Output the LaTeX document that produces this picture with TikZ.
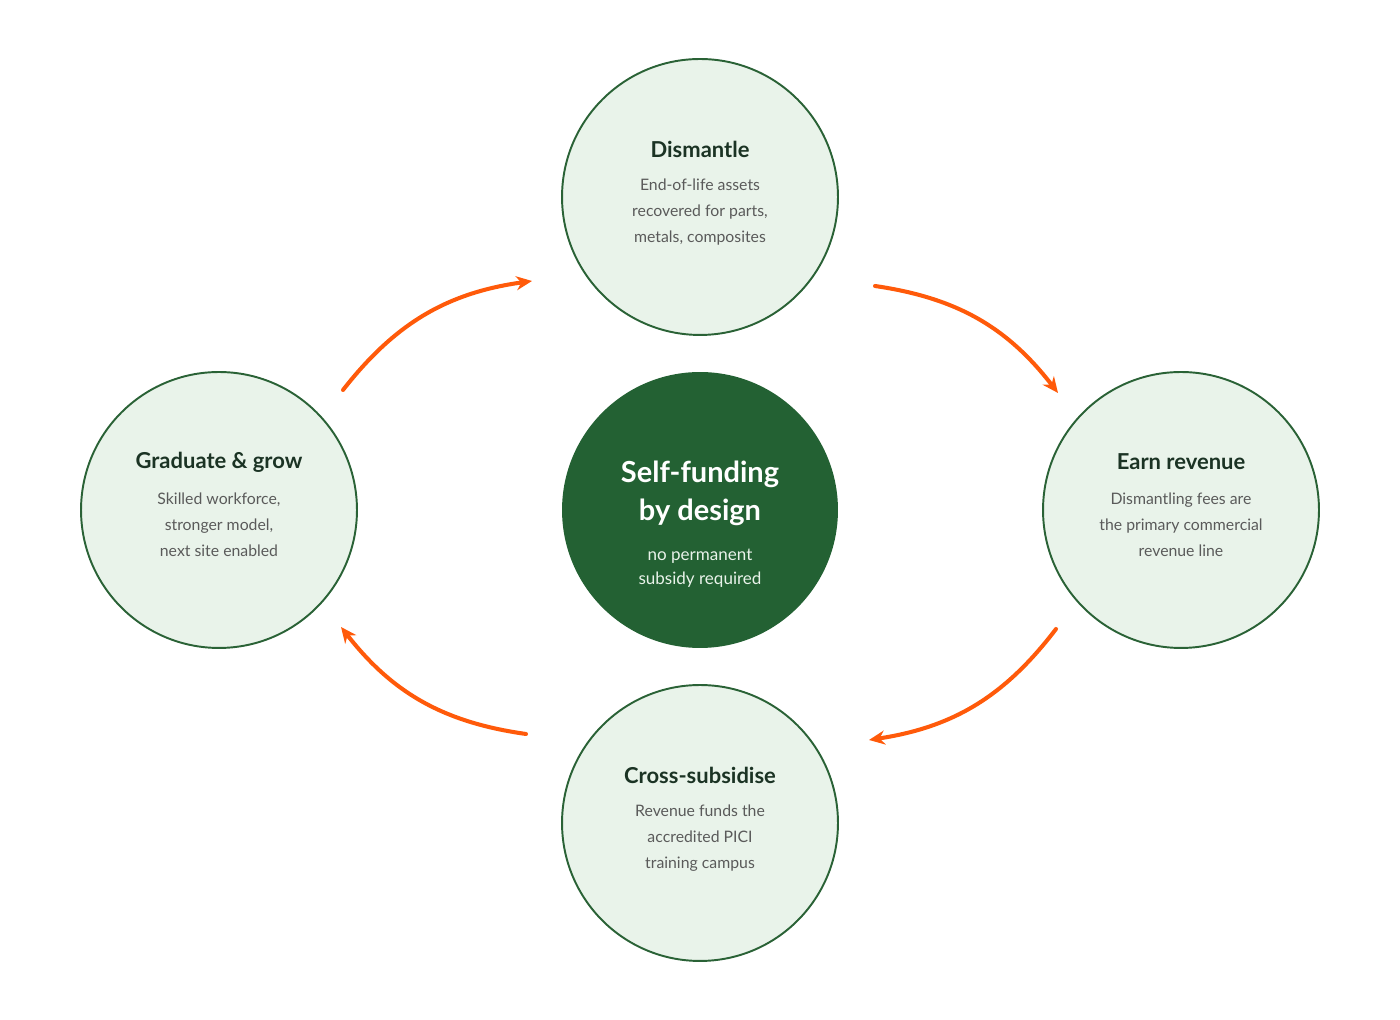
\documentclass[tikz,border=0pt]{standalone}
\usepackage{fontspec}
\setmainfont{Lato}
\usetikzlibrary{arrows.meta}
\definecolor{ringfill}{HTML}{E9F3EA}
\definecolor{ringline}{HTML}{2A6236}
\definecolor{hubfill}{HTML}{236133}
\definecolor{titletxt}{HTML}{1B3324}
\definecolor{bodytxt}{HTML}{5A5A5A}
\definecolor{flow}{HTML}{FF5A0A}
\tikzset{
  stage/.style={circle,draw=ringline,fill=ringfill,line width=1.1pt,minimum size=5.52cm,inner sep=0pt},
  hub/.style={circle,fill=hubfill,minimum size=5.52cm,inner sep=0pt},
  stagetitle/.style={font=\fontsize{12.5}{15}\selectfont\bfseries,text=titletxt},
  stagebody/.style={font=\fontsize{9}{14.8}\selectfont,text=bodytxt,align=center},
  flowarrow/.style={draw=flow,line width=2.3pt,line cap=round,-{Stealth[length=9pt,width=8pt]},bend left=22}
}
\begin{document}
\begin{tikzpicture}[x=0.02cm,y=0.02cm]
\useasboundingbox (0,0) rectangle (1400,1020);

\node[stage] (T) at (700,823) {};
\node[stage] (L) at (219,510) {};
\node[stage] (R) at (1181,510) {};
\node[stage] (B) at (700,197) {};
\node[hub] (H) at (700,510) {};

\node[stagetitle] (Tt) at (700,871) {Dismantle};
\node[stagebody] (Tb) at (700,808) {End-of-life assets\\recovered for parts,\\metals, composites};
\node[stagetitle] (Rt) at (1181,558) {Earn revenue};
\node[stagebody] (Rb) at (1181,495) {Dismantling fees are\\the primary commercial\\revenue line};
\node[stagetitle] (Bt) at (700,245) {Cross-subsidise};
\node[stagebody] (Bb) at (700,182) {Revenue funds the\\accredited PICI\\training campus};
\node[stagetitle] (Lt) at (219,558) {Graduate \& grow};
\node[stagebody] (Lb) at (219,495) {Skilled workforce,\\stronger model,\\next site enabled};

\node[font=\fontsize{16.5}{21.6}\selectfont\bfseries,text=white,align=center] (Ht) at (700,527) {Self-funding\\by design};
\node[font=\fontsize{9.7}{13.6}\selectfont,text=ringfill,align=center] (Hs) at (700,452) {no permanent\\subsidy required};

% arrows between the stages
\coordinate (a1) at (343,630);
\coordinate (a2) at (532,739);
\coordinate (b1) at (875,734);
\coordinate (b2) at (1058,627);
\coordinate (c1) at (1056,391);
\coordinate (c2) at (869,280);
\coordinate (d1) at (526,286);
\coordinate (d2) at (341,393);

\draw[flowarrow] (a1) to (a2);
\draw[flowarrow] (b1) to (b2);
\draw[flowarrow] (c1) to (c2);
\draw[flowarrow] (d1) to (d2);

\end{tikzpicture}
\end{document}
